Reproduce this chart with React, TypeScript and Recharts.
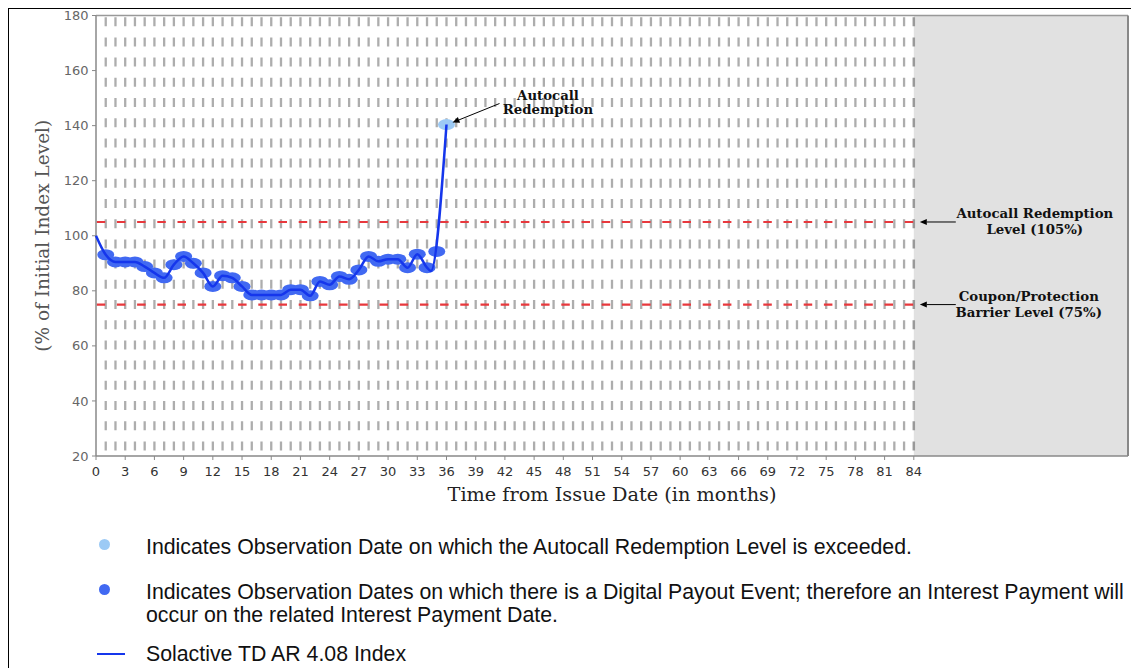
import React from "react";
import {
  ComposedChart,
  Line,
  ReferenceArea,
  ReferenceDot,
  ReferenceLine,
  Scatter,
  XAxis,
  YAxis,
} from "recharts";

const xTicks = [0, 3, 6, 9, 12, 15, 18, 21, 24, 27, 30, 33, 36, 39, 42, 45, 48, 51, 54, 57, 60, 63, 66, 69, 72, 75, 78, 81, 84];
const yTicks = [20, 40, 60, 80, 100, 120, 140, 160, 180];

// index path (months from issue, % of initial level)
const lineMonths = [0, 1, 2, 3, 4, 5, 6, 7, 8, 9, 10, 11, 12, 13, 14, 15, 16, 17, 18, 19, 20, 21, 22, 23, 24, 25, 26, 27, 28, 29, 30, 31, 32, 33, 34, 34.4, 36];
const lineLevels = [100, 93.1, 90.5, 90.5, 90.5, 88.8, 86.5, 84.7, 89.5, 92.5, 90, 86.5, 81.6, 85.5, 84.7, 81.6, 78.5, 78.5, 78.5, 78.5, 80.4, 80.4, 78.2, 83.4, 82.2, 85.2, 84.2, 87.6, 92.5, 90.7, 91.5, 91.5, 88.4, 93.3, 88.4, 87.2, 140.4];

// observation dates with a digital payout event
const obsMonths = [1, 2, 3, 4, 5, 6, 7, 8, 9, 10, 11, 12, 13, 14, 15, 16, 17, 18, 19, 20, 21, 22, 23, 24, 25, 26, 27, 28, 29, 30, 31, 32, 33, 34, 35];
const obsLevels = [93.1, 90.5, 90.5, 90.5, 88.8, 86.5, 84.7, 89.5, 92.5, 90, 86.5, 81.6, 85.5, 84.7, 81.6, 78.5, 78.5, 78.5, 78.5, 80.4, 80.4, 78.2, 83.4, 82.2, 85.2, 84.2, 87.6, 92.5, 90.7, 91.5, 91.5, 88.4, 93.3, 88.4, 94.3];

// autocall observation
const autocallMonths = [36];
const autocallLevels = [140.4];

const gridMonths = Array.from({ length: 83 }, (_, i) => i + 1);
const termMonth = 84;
const axisMaxMonth = 106;
const autocallBarrier = 105;
const couponBarrier = 75;

const lineData = lineMonths.map((m, i) => ({ m, v: lineLevels[i] }));
const obsData = obsMonths.map((m, i) => ({ m, v: obsLevels[i] }));
const autocallData = autocallMonths.map((m, i) => ({ m, v: autocallLevels[i] }));

const LINE_BLUE = "#1536ec";
const DOT_BLUE = "#4169f2";
const DOT_LIGHT = "#9ccaf5";

const annotStyle: React.CSSProperties = {
  fontFamily: "DejaVu Serif",
  fontWeight: "bold",
  fontSize: 13.3,
};

function Arrow({ x1, y1, x2, y2 }: { x1: number; y1: number; x2: number; y2: number }) {
  const a = Math.atan2(y2 - y1, x2 - x1);
  const len = 7;
  const w = 3;
  const bx = x2 - len * Math.cos(a);
  const by = y2 - len * Math.sin(a);
  const p1 = `${bx + w * Math.sin(a)},${by - w * Math.cos(a)}`;
  const p2 = `${bx - w * Math.sin(a)},${by + w * Math.cos(a)}`;
  return (
    <g>
      <line x1={x1} y1={y1} x2={bx} y2={by} stroke="#000" strokeWidth={1} />
      <polygon points={`${x2},${y2} ${p1} ${p2}`} fill="#000" />
    </g>
  );
}

const levelLabel = (lines: string[], dx: number) => (props: any) => {
  const vb = props.viewBox || {};
  const xe = vb.x + vb.width;
  const y = vb.y;
  return (
    <g>
      <Arrow x1={xe + 42} y1={y} x2={xe + 6} y2={y} />
      <text x={xe + dx} y={y - 3.5} textAnchor="middle" fill="#111" style={annotStyle}>
        {lines[0]}
      </text>
      <text x={xe + dx} y={y + 12.5} textAnchor="middle" fill="#111" style={annotStyle}>
        {lines[1]}
      </text>
    </g>
  );
};

const autocallLabel = (props: any) => {
  const vb = props.viewBox || {};
  const cx = vb.x + vb.width / 2;
  const cy = vb.y + vb.height / 2;
  return (
    <g>
      <Arrow x1={cx + 53} y1={cy - 21} x2={cx + 6} y2={cy - 2} />
      <text x={cx + 101.5} y={cy - 25} textAnchor="middle" fill="#111" style={annotStyle}>
        Autocall
      </text>
      <text x={cx + 101.5} y={cy - 11} textAnchor="middle" fill="#111" style={annotStyle}>
        Redemption
      </text>
    </g>
  );
};

const Ellipse = (props: any) => (
  <ellipse cx={props.cx} cy={props.cy} rx={8.5} ry={5.5} fill={props.fill} />
);

const xLabel = (props: any) => {
  const vb = props.viewBox || {};
  return (
    <text
      x={vb.x + vb.width / 2}
      y={vb.y + 45}
      textAnchor="middle"
      fill="#222"
      style={{ fontFamily: "DejaVu Serif", fontSize: 19.3 }}
    >
      Time from Issue Date (in months)
    </text>
  );
};

const yLabel = (props: any) => {
  const vb = props.viewBox || {};
  const x = vb.x + 41;
  const y = vb.y + vb.height / 2;
  return (
    <text
      x={x}
      y={y}
      transform={`rotate(-90, ${x}, ${y})`}
      textAnchor="middle"
      fill="#555"
      style={{ fontFamily: "DejaVu Serif", fontSize: 18.5 }}
    >
      (% of Initial Index Level)
    </text>
  );
};

const legendText: React.CSSProperties = {
  position: "absolute",
  left: 138,
  fontFamily: "'Liberation Sans', Arial, sans-serif",
  fontSize: 21.3,
  lineHeight: "23.5px",
  color: "#111",
  whiteSpace: "nowrap",
};

export default function App() {
  return (
    <div style={{ position: "relative", width: 1131, height: 660 }}>
      <div style={{ position: "absolute", left: -1, top: -1, width: 1132, height: 1.5, background: "#000" }} />
      <div style={{ position: "absolute", left: -1, top: -1, width: 2, height: 662, background: "#000" }} />
      <ComposedChart
        width={1131}
        height={500}
        margin={{ top: 7.5, right: 11, left: 0, bottom: 0 }}
      >
        <XAxis
          type="number"
          dataKey="m"
          domain={[0, axisMaxMonth]}
          ticks={xTicks}
          interval={0}
          height={52}
          tickSize={4}
          tickMargin={7}
          tick={{ fill: "#333", fontSize: 13, fontFamily: "DejaVu Sans" }}
          tickLine={{ stroke: "#888" }}
          axisLine={{ stroke: "#888", strokeWidth: 1.5 }}
          label={xLabel}
        />
        <YAxis
          type="number"
          dataKey="v"
          domain={[20, 180]}
          ticks={yTicks}
          interval={0}
          width={88}
          tickSize={4}
          tickMargin={3.5}
          tick={{ fill: "#666", fontSize: 13, fontFamily: "DejaVu Sans" }}
          tickLine={{ stroke: "#888" }}
          axisLine={{ stroke: "#888", strokeWidth: 1.5 }}
          label={yLabel}
        />
        <ReferenceArea
          x1={termMonth}
          x2={axisMaxMonth}
          y1={20}
          y2={180}
          fill="#e1e1e1"
          fillOpacity={1}
          stroke="none"
        />
        {gridMonths.map((m) => (
          <ReferenceLine
            key={m}
            segment={[
              { x: m, y: 180 },
              { x: m, y: 20 },
            ]}
            stroke="#adadad"
            strokeWidth={2.3}
            strokeDasharray="9 11.2"
            strokeDashoffset={18.5}
          />
        ))}
        <ReferenceLine
          segment={[
            { x: termMonth, y: 180 },
            { x: termMonth, y: 20 },
          ]}
          stroke="#999"
          strokeWidth={2.5}
          strokeDasharray="9 11.2"
          strokeDashoffset={18.5}
        />
        <ReferenceLine y={180} stroke="#999" strokeWidth={1.5} />
        <ReferenceLine x={axisMaxMonth} stroke="#888" strokeWidth={2} />
        <ReferenceLine
          segment={[
            { x: 0, y: autocallBarrier },
            { x: termMonth, y: autocallBarrier },
          ]}
          stroke="#e8383d"
          strokeWidth={2.2}
          strokeDasharray="8.5 11.7"
          strokeDashoffset={19.5}
          label={levelLabel(["Autocall Redemption", "Level (105%)"], 121)}
        />
        <ReferenceLine
          segment={[
            { x: 0, y: couponBarrier },
            { x: termMonth, y: couponBarrier },
          ]}
          stroke="#e8383d"
          strokeWidth={2.2}
          strokeDasharray="8.5 11.7"
          strokeDashoffset={19.5}
          label={levelLabel(["Coupon/Protection", "Barrier Level (75%)"], 115)}
        />
        <Scatter
          data={obsData}
          dataKey="v"
          fill={DOT_BLUE}
          shape={Ellipse}
          isAnimationActive={false}
          zIndex={600}
        />
        <Scatter
          data={autocallData}
          dataKey="v"
          fill={DOT_LIGHT}
          shape={Ellipse}
          isAnimationActive={false}
          zIndex={600}
        />
        <Line
          data={lineData}
          dataKey="v"
          type="monotone"
          stroke={LINE_BLUE}
          strokeWidth={2.5}
          dot={false}
          activeDot={false}
          isAnimationActive={false}
          zIndex={700}
        />
        <ReferenceDot
          x={autocallMonths[0]}
          y={autocallLevels[0]}
          r={1}
          fill="none"
          stroke="none"
          label={autocallLabel}
        />
      </ComposedChart>

      <div style={{ position: "absolute", left: 91.2, top: 531, width: 11, height: 11, borderRadius: "50%", background: DOT_LIGHT }} />
      <div style={{ ...legendText, top: 528 }}>
        Indicates Observation Date on which the Autocall Redemption Level is exceeded.
      </div>

      <div style={{ position: "absolute", left: 91.2, top: 576, width: 11, height: 11, borderRadius: "50%", background: DOT_BLUE }} />
      <div style={{ ...legendText, top: 572.5 }}>
        Indicates Observation Dates on which there is a Digital Payout Event; therefore an Interest Payment will
        <br />
        occur on the related Interest Payment Date.
      </div>

      <div style={{ position: "absolute", left: 89, top: 644.5, width: 28, height: 2, background: LINE_BLUE }} />
      <div style={{ ...legendText, top: 634.5 }}>Solactive TD AR 4.08 Index</div>
    </div>
  );
}
